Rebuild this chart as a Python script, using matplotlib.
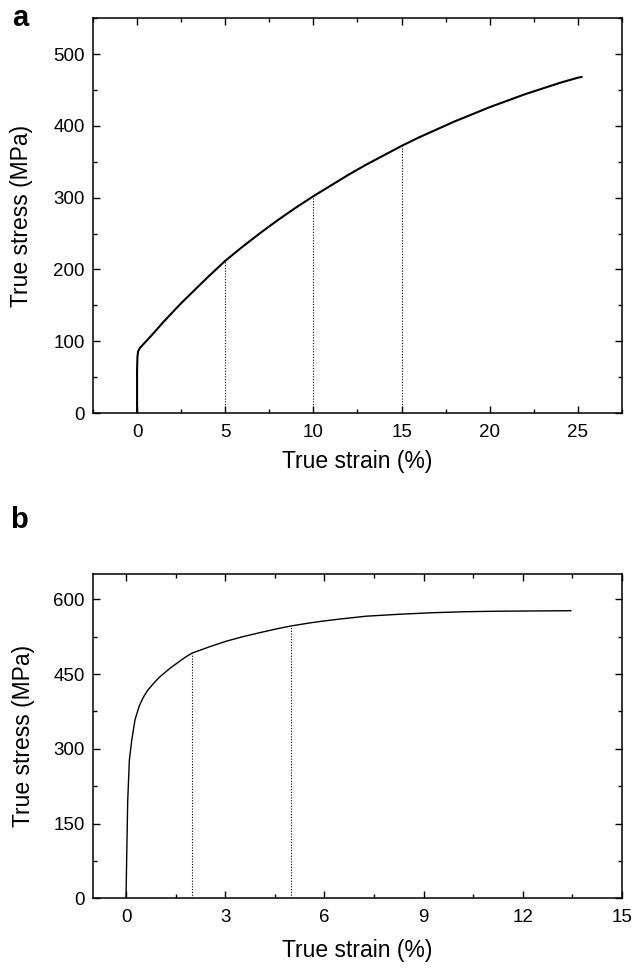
import matplotlib.pyplot as plt
from matplotlib.ticker import MultipleLocator

plt.rcParams['font.family'] = ['Liberation Sans', 'DejaVu Sans']

# panel a: true stress-strain curve
strain_a = [0, 0.0, 0.02, 0.06, 0.17, 0.4, 0.74, 1, 1.5, 2, 2.5, 3, 3.5, 4, 4.5, 5,
            6, 7, 8, 9, 10, 11, 12, 13, 14, 15, 16, 17, 18, 19, 20,
            21, 22, 23, 24, 25, 25.2]
stress_a = [0, 60, 78, 86, 91, 97, 106, 113, 127, 140, 153, 165, 177, 189, 200.5, 212,
            232, 251, 269, 286, 302, 317, 332, 346, 359, 372, 384, 395, 406, 416, 426,
            435, 444, 452, 460, 467, 468]
marks_a_x = [5, 10, 15]
marks_a_y = [212, 302, 372]

# panel b
strain_b = [0, 0.02, 0.05, 0.1, 0.17, 0.27, 0.4, 0.52, 0.65, 0.83, 1.0, 1.23, 1.4,
            1.63, 1.8, 2.0, 2.54, 3.04, 3.54, 4.05, 4.55, 5.0, 5.56, 6, 6.5, 7.27,
            8.3, 9.28, 10.3, 11.3, 12.4, 13.45]
stress_b = [0, 85, 195, 277, 316, 358, 386, 403, 417, 431, 443, 456, 465,
            476, 484, 492, 505, 516, 525, 533, 540.5, 546.5, 552.5, 556.5, 560.5, 566,
            570, 573, 575, 576, 576.5, 577]
marks_b_x = [2, 5]
marks_b_y = [492, 546.5]

fig = plt.figure(figsize=(6.33, 9.68), dpi=100)
ax_a = fig.add_axes([0.1469, 0.5733, 0.8357, 0.408])
ax_b = fig.add_axes([0.1469, 0.0720, 0.8357, 0.3347])


def style(ax, xmaj, ymaj):
    ax.xaxis.set_major_locator(MultipleLocator(xmaj))
    ax.xaxis.set_minor_locator(MultipleLocator(xmaj / 2))
    ax.yaxis.set_major_locator(MultipleLocator(ymaj))
    ax.yaxis.set_minor_locator(MultipleLocator(ymaj / 2))
    ax.tick_params(which='both', direction='in', top=True, right=True,
                   labelsize=13.5)
    ax.tick_params(axis='x', pad=8)
    ax.tick_params(axis='y', pad=6)
    ax.tick_params(which='major', length=5, width=1)
    ax.tick_params(which='minor', length=3, width=1)
    for s in ax.spines.values():
        s.set_linewidth(1.1)
    ax.set_xlabel('True strain (%)', fontsize=16.5)
    ax.set_ylabel('True stress (MPa)', fontsize=16.5)


ax_a.plot(strain_a, stress_a, color='black', lw=1.5)
ax_a.vlines(marks_a_x, 0, marks_a_y, colors='black', lw=0.8, linestyles=(0, (1, 1.5)))
ax_a.set_xlim(-2.5, 27.5)
ax_a.set_ylim(0, 550)
style(ax_a, 5, 100)
ax_a.xaxis.set_label_coords(0.5, -0.094)
ax_a.yaxis.set_label_coords(-0.113, 0.5)

ax_b.plot(strain_b, stress_b, color='black', lw=1.0)
ax_b.vlines(marks_b_x, 0, marks_b_y, colors='black', lw=0.8, linestyles=(0, (1, 1.5)))
ax_b.set_xlim(-1, 15)
ax_b.set_ylim(0, 650)
style(ax_b, 3, 150)
ax_b.xaxis.set_label_coords(0.5, -0.125)
ax_b.yaxis.set_label_coords(-0.110, 0.5)

fig.text(0.019, 0.9731, 'a', fontsize=21, fontweight='bold', va='baseline')
fig.text(0.016, 0.4545, 'b', fontsize=21, fontweight='bold', va='baseline')

fig.savefig('out.png', dpi=100)
